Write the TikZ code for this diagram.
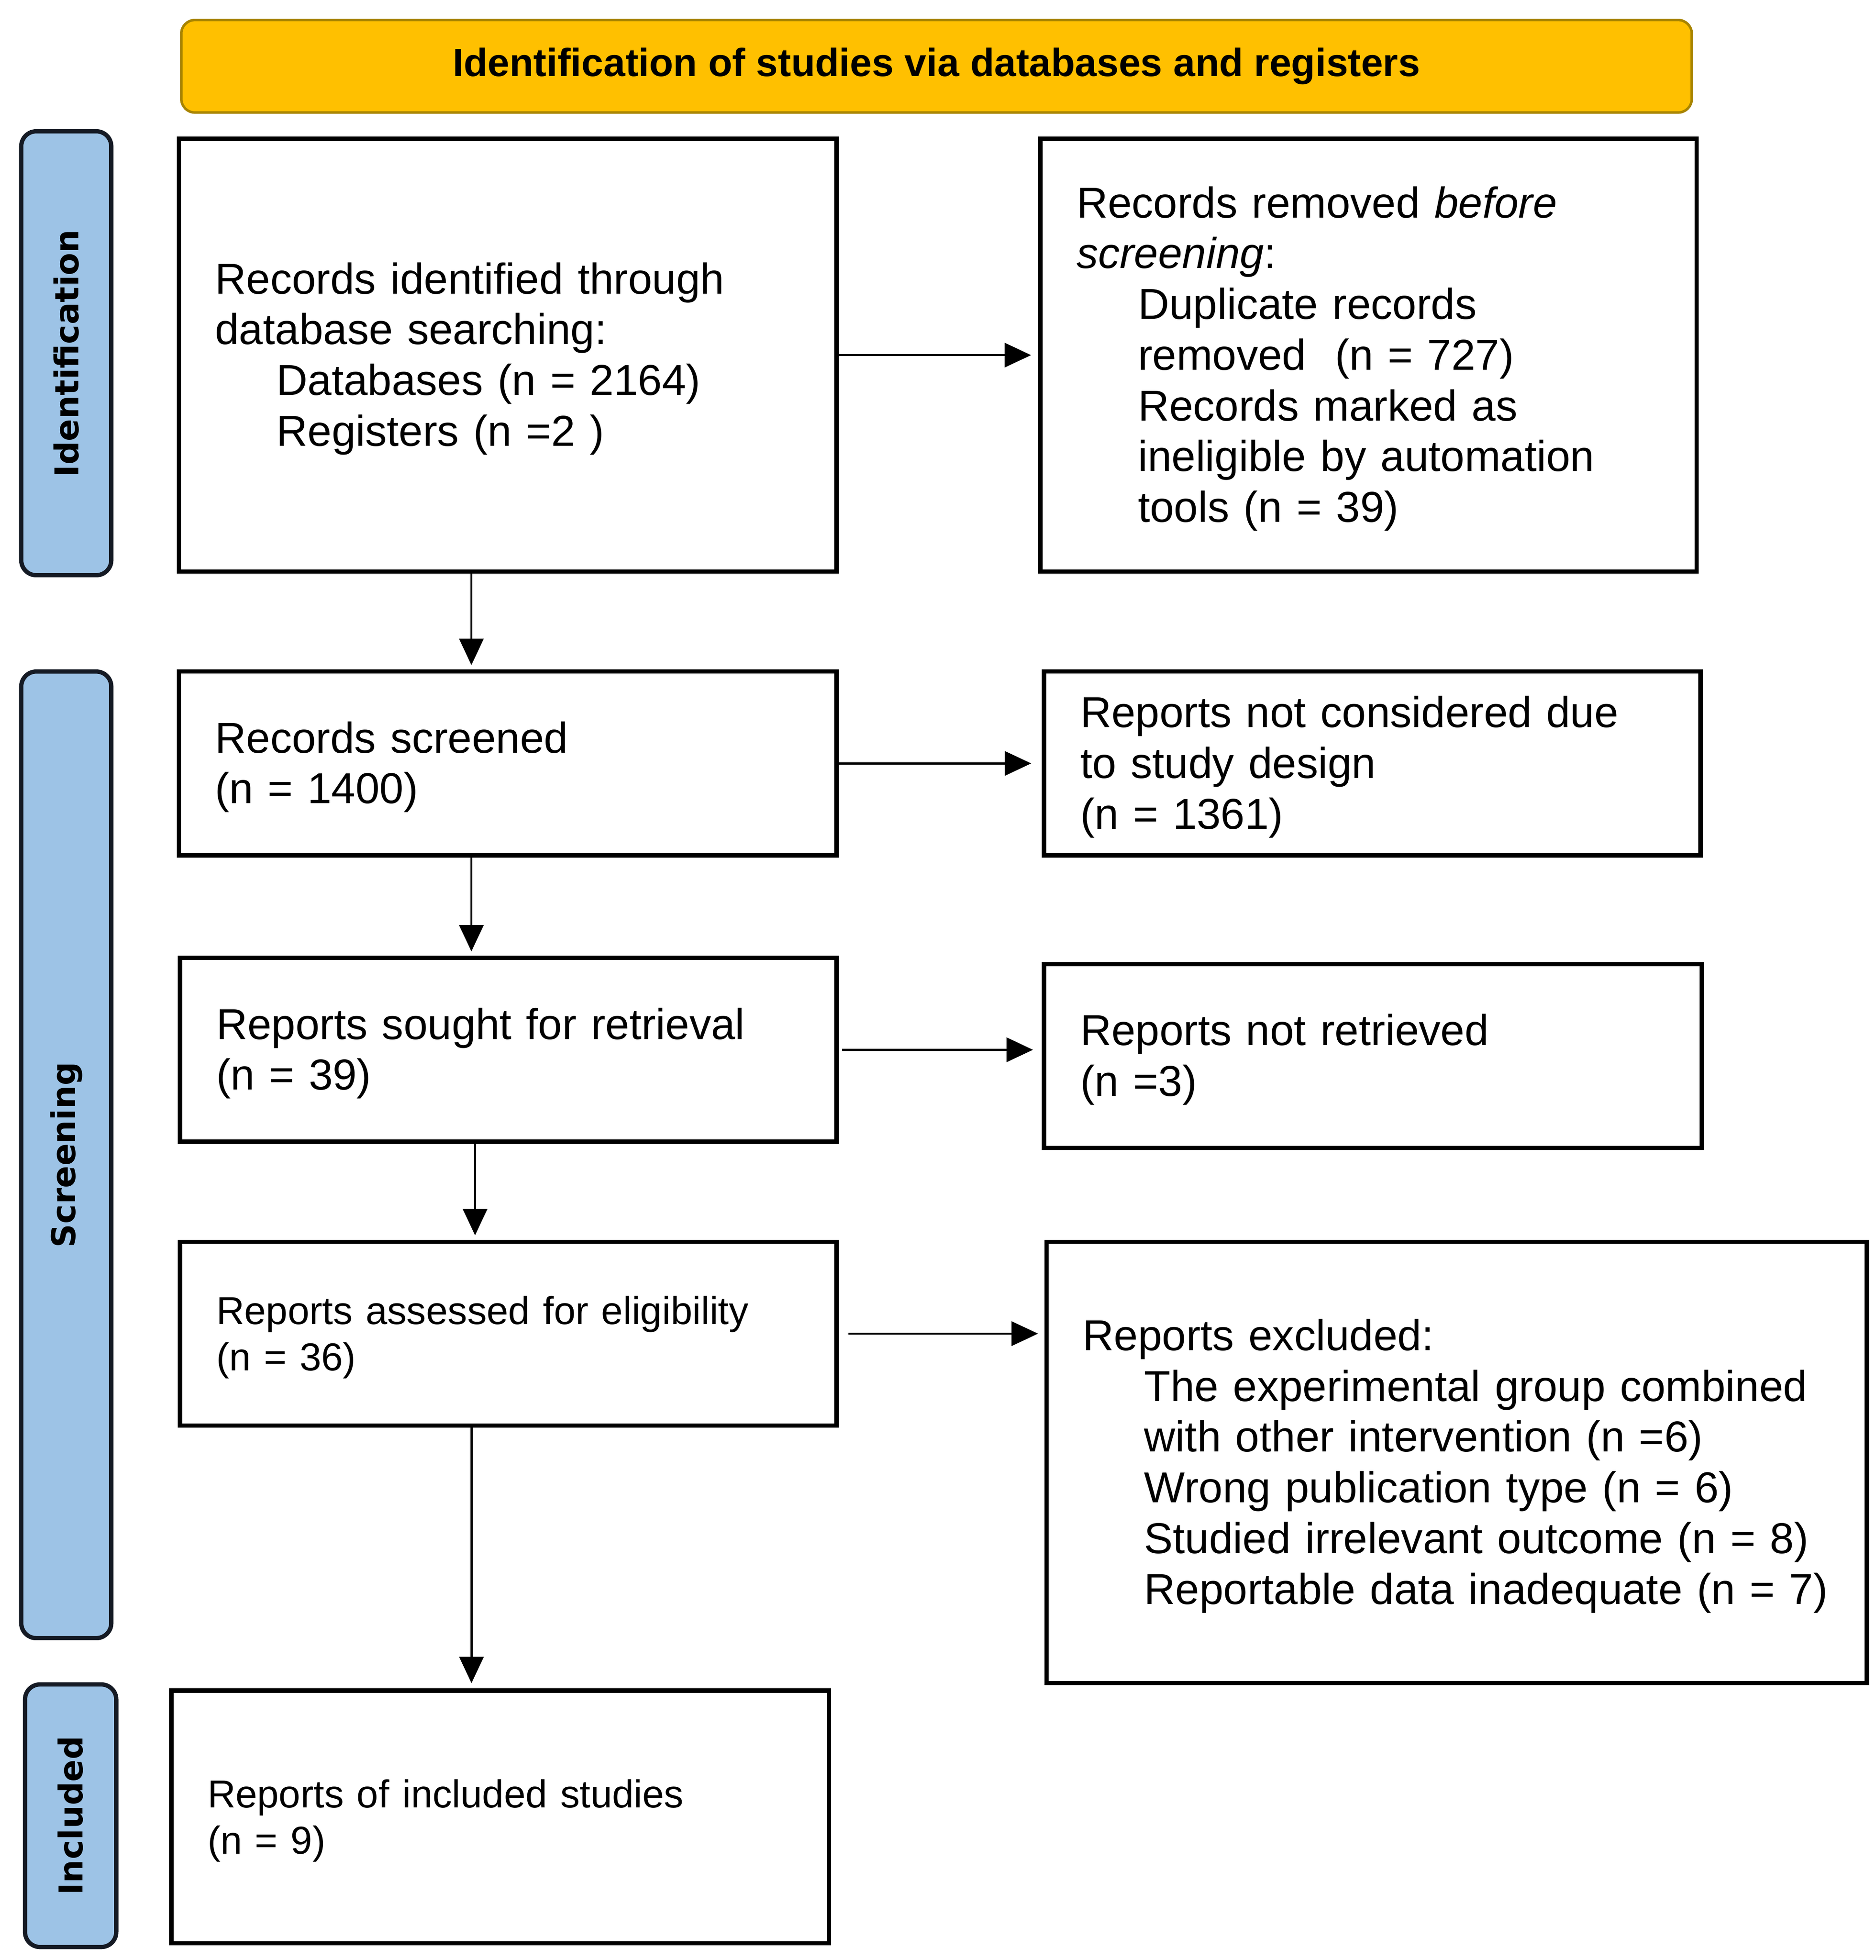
\documentclass[tikz,border=0pt]{standalone}
\usepackage{fontspec}
\setmainfont{Liberation Sans}
\newfontfamily\sidefont{DejaVu Sans}
\usetikzlibrary{arrows.meta,calc}
\definecolor{hdrfill}{HTML}{FFC000}
\definecolor{hdrline}{HTML}{A88400}
\definecolor{sidefill}{HTML}{9DC3E6}
\definecolor{sideline}{HTML}{151A24}
\newcommand{\myind}{\hspace*{17.2pt}}
\newcommand{\boxtail}{\endgraf\vspace*{-2pt}}
\begin{document}
\begin{tikzpicture}[x=0.35pt,y=-0.35pt,
  box/.style={draw=black, line width=1.2pt, fill=white, rectangle,
    inner xsep=10.15pt, inner ysep=0pt, align=left,
    execute at end node={\boxtail},
    font=\fontsize{12.1}{14.2}\selectfont},
  smallbox/.style={box, font=\fontsize{10.9}{12.95}\selectfont},
  header/.style={draw=hdrline, line width=0.7pt, fill=hdrfill, rounded corners=3.8pt,
    inner sep=0pt, font=\bfseries\fontsize{11}{13}\selectfont},
  side/.style={draw=sideline, line width=1.2pt, fill=sidefill, rounded corners=4.2pt,
    inner sep=0pt, rotate=90, font=\sidefont\bfseries\fontsize{9.2}{11}\selectfont},
  arr/.style={draw=black, line width=0.6pt, -{Triangle[length=7.4pt,width=6.8pt]}}
]
\useasboundingbox (0,0) rectangle (1500,1567.4);

% header
\node[header, minimum width=422.8pt, minimum height=25.9pt] (hdr) at (749,53)
  {Identification of studies via databases and registers};

% side labels
\node[side, minimum width=124.25pt, minimum height=25.2pt] (sid) at (53,282.5) {Identification};
\node[side, minimum width=270.55pt, minimum height=25.2pt] (sscr) at (53,923.5) {Screening};
\node[side, minimum width=73.5pt, minimum height=25.55pt] (sinc) at (56.5,1452) {Included};

% boxes
\node[box, text width=163.8pt, minimum height=121.1pt] (A) at (406,284)
  {\mbox{Records identified through}\\database searching:\\\myind Databases (n = 2164)\\\myind Registers (n =2 )};
\node[box, text width=163.45pt, minimum height=121.1pt] (B) at (1094.5,284)
  {Records removed \textit{before}\\\textit{screening}:\\\myind Duplicate records\\\myind removed\ \ (n = 727)\\\myind Records marked as\\\myind \mbox{ineligible by automation}\\\myind tools (n = 39)};
\node[box, text width=163.8pt, minimum height=51.45pt] (C) at (406,610.5)
  {Records screened\\(n = 1400)};
\node[box, text width=163.45pt, minimum height=51.45pt] (D) at (1097.5,610.5)
  {\mbox{Reports not considered due}\\to study design\\(n = 1361)};
\node[box, text width=163.45pt, minimum height=51.45pt] (E) at (406.5,839.5)
  {\mbox{Reports sought for retrieval}\\(n = 39)};
\node[box, text width=163.8pt, minimum height=51.45pt] (F) at (1098,844.5)
  {Reports not retrieved\\(n =3)};
\node[smallbox, text width=163.45pt, minimum height=51.45pt] (G) at (406.5,1066.5)
  {\mbox{Reports assessed for eligibility}\\(n = 36)};
\node[box, text width=209.3pt, minimum height=123.55pt] (H) at (1165,1169.5)
  {Reports excluded:\\\myind \mbox{The experimental group combined}\\\myind \mbox{with other intervention (n =6)}\\\myind \mbox{Wrong publication type (n = 6)}\\\myind \mbox{Studied irrelevant outcome (n = 8)}\\\myind \mbox{Reportable data inadequate (n = 7)}};
\node[smallbox, text width=163.8pt, minimum height=70.7pt] (I) at (400,1453)
  {Reports of included studies\\(n = 9)};

% horizontal arrows
\draw[arr, shorten >=2pt] (A.east) -- (A.east -| B.west);
\draw[arr, shorten >=3pt] (C.east) -- (C.east -| D.west);
\draw[arr, shorten >=2.5pt, shorten <=1pt] (E.east) -- (E.east -| F.west);
\draw[arr, shorten >=1.8pt, shorten <=2.8pt] (G.east) -- (G.east -| H.west);

% vertical arrows
\draw[arr, shorten >=1.2pt] ([xshift=-10.15pt]A.south) -- ([xshift=-10.15pt]A.south |- C.north);
\draw[arr, shorten >=1.2pt] ([xshift=-10.15pt]C.south) -- ([xshift=-10.15pt]C.south |- E.north);
\draw[arr, shorten >=1.2pt] ([xshift=-9.3pt]E.south) -- ([xshift=-9.3pt]E.south |- G.north);
\draw[arr, shorten >=1.5pt] ([xshift=-10.3pt]G.south) -- ([xshift=-10.3pt]G.south |- I.north);
\end{tikzpicture}
\end{document}
